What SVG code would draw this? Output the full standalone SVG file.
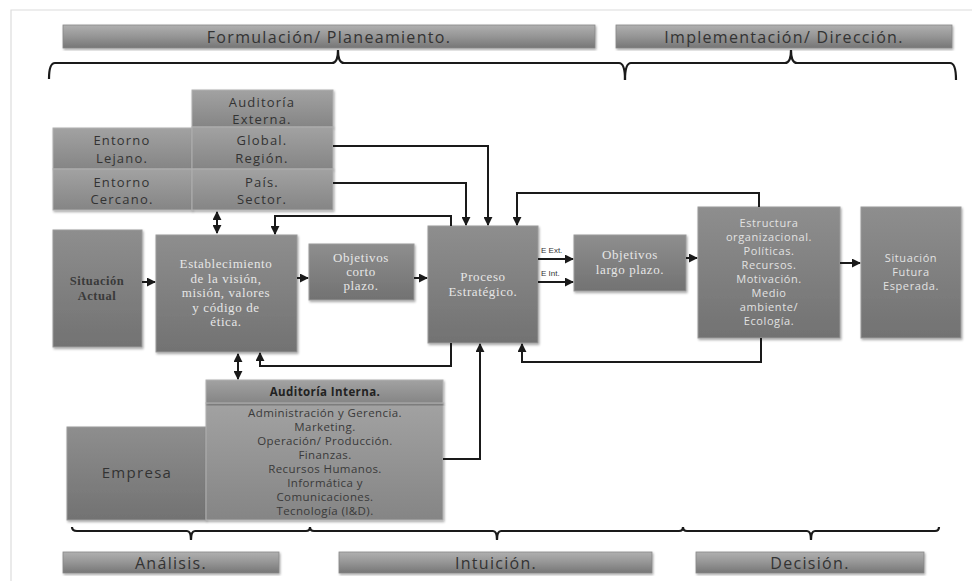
<svg xmlns="http://www.w3.org/2000/svg" width="972" height="581" viewBox="0 0 972 581">
<defs>
<linearGradient id="gBox" x1="0" y1="0" x2="0" y2="1">
<stop offset="0" stop-color="#8e8e8e"/>
<stop offset="1" stop-color="#727272"/>
</linearGradient>
<linearGradient id="gLight" x1="0" y1="0" x2="0" y2="1">
<stop offset="0" stop-color="#a2a2a2"/>
<stop offset="1" stop-color="#858585"/>
</linearGradient>
<linearGradient id="gBar" x1="0" y1="0" x2="0" y2="1">
<stop offset="0" stop-color="#b0b0b0"/>
<stop offset="0.5" stop-color="#959595"/>
<stop offset="1" stop-color="#767676"/>
</linearGradient>
<filter id="sh" x="-10%" y="-10%" width="120%" height="120%">
<feDropShadow dx="1" dy="1.5" stdDeviation="1.2" flood-color="#000" flood-opacity="0.35"/>
</filter>
<marker id="ah" viewBox="0 0 10 10" refX="9" refY="5" markerWidth="4.5" markerHeight="4.5" orient="auto-start-reverse">
<path d="M0,0 L10,5 L0,10 z" fill="#1a1a1a"/>
</marker>
</defs>
<style>
.box{fill:url(#gBox);stroke:#9a9a9a;stroke-width:1;filter:url(#sh)}
.lbox{fill:url(#gLight);stroke:#b0b0b0;stroke-width:1;filter:url(#sh)}
.bar{fill:url(#gBar);stroke:#888;stroke-width:0.8;filter:url(#sh)}
.bt{font-family:"Open Sans","DejaVu Sans",sans-serif;font-size:16px;fill:#333;text-anchor:middle;letter-spacing:1.3px}
.dk{font-family:"Open Sans","DejaVu Sans",sans-serif;font-size:13px;fill:#333;text-anchor:middle;letter-spacing:1.2px}
.sm{font-family:"Open Sans","DejaVu Sans",sans-serif;font-size:11.5px;fill:#3a3a3a;text-anchor:middle;letter-spacing:0.4px}
.ws{font-family:"Open Sans","DejaVu Sans",sans-serif;font-size:11px;fill:#e2e2e2;text-anchor:middle;letter-spacing:0.6px}
.wf{font-family:"Liberation Serif","DejaVu Serif",serif;font-size:13px;fill:#e6e6e6;text-anchor:middle;letter-spacing:0.6px}
.df{font-family:"Liberation Serif","DejaVu Serif",serif;font-size:12.5px;font-weight:bold;fill:#3a3a3a;text-anchor:middle;letter-spacing:0.5px}
.tiny{font-family:"Liberation Sans","DejaVu Sans",sans-serif;font-size:8px;fill:#333}
.ln{fill:none;stroke:#1a1a1a;stroke-width:2}
.br{fill:none;stroke:#1a1a1a;stroke-width:2.2}
.ar{marker-end:url(#ah)}
.ar2{marker-end:url(#ah);marker-start:url(#ah)}
</style>
<rect width="972" height="581" fill="#fff"/>
<path d="M11,581 L11,10 L972,10" fill="none" stroke="#dcdcdc" stroke-width="1.2"/>

<g id="header-formulacion">
<rect class="bar" x="63" y="25" width="532" height="23"/>
<text class="bt" x="329" y="43">Formulación/ Planeamiento.</text>
</g>
<g id="header-implementacion">
<rect class="bar" x="616" y="25" width="336" height="23"/>
<text class="bt" x="784" y="43">Implementación/ Dirección.</text>
</g>
<g id="footer-analisis">
<rect class="bar" x="63" y="552" width="216" height="21"/>
<text class="bt" x="171" y="569">Análisis.</text>
</g>
<g id="footer-intuicion">
<rect class="bar" x="339" y="552" width="313" height="21"/>
<text class="bt" x="496" y="569">Intuición.</text>
</g>
<g id="footer-decision">
<rect class="bar" x="696" y="552" width="228" height="21"/>
<text class="bt" x="810" y="569">Decisión.</text>
</g>

<g id="braces">
<path class="br" d="M49,79 Q49,63 55,63 L332,63 Q338,63 338,50 Q338,63 344,63 L619,63 Q625,63 625,80"/>
<path class="br" d="M625,80 Q625,63 631,63 L785,63 Q791,63 791,50 Q791,63 797,63 L950,63 Q956,63 956,80"/>
<path class="br" d="M72,527 Q72,531 77,531 L187,531 Q191,531 191,540 Q191,531 195,531 L306,531 Q310,531 310,527 Q310,531 314,531 L493,531 Q497,531 497,540 Q497,531 501,531 L679,531 Q683,531 683,527 Q683,531 687,531 L807,531 Q811,531 811,540 Q811,531 815,531 L935,531 Q939,531 939,527"/>
</g>

<g id="auditoria-externa">
<rect class="lbox" x="192" y="90" width="141" height="37"/>
<text class="dk" x="262" y="107">Auditoría</text>
<text class="dk" x="262" y="124">Externa.</text>
</g>
<g id="entorno-lejano">
<rect class="lbox" x="53" y="128" width="139" height="41"/>
<text class="dk" x="122" y="145">Entorno</text>
<text class="dk" x="122" y="163">Lejano.</text>
</g>
<g id="global-region">
<rect class="lbox" x="192" y="127" width="141" height="42"/>
<text class="dk" x="262" y="145">Global.</text>
<text class="dk" x="262" y="163">Región.</text>
</g>
<g id="entorno-cercano">
<rect class="lbox" x="53" y="169" width="139" height="41"/>
<text class="dk" x="122" y="187">Entorno</text>
<text class="dk" x="122" y="204">Cercano.</text>
</g>
<g id="pais-sector">
<rect class="lbox" x="192" y="169" width="141" height="41"/>
<text class="dk" x="262" y="187">País.</text>
<text class="dk" x="262" y="204">Sector.</text>
</g>

<g id="situacion-actual">
<rect class="box" x="53" y="230" width="89" height="117"/>
<text class="df" x="97" y="285">Situación</text>
<text class="df" x="97" y="300">Actual</text>
</g>
<g id="establecimiento">
<rect class="box" x="156" y="235" width="141" height="117"/>
<text class="wf" x="226" y="268">Establecimiento</text>
<text class="wf" x="226" y="283">de la visión,</text>
<text class="wf" x="226" y="297">misión, valores</text>
<text class="wf" x="226" y="312">y código de</text>
<text class="wf" x="226" y="326">ética.</text>
</g>
<g id="objetivos-corto">
<rect class="box" x="309" y="244" width="105" height="56"/>
<text class="wf" x="361" y="262">Objetivos</text>
<text class="wf" x="361" y="276">corto</text>
<text class="wf" x="361" y="290">plazo.</text>
</g>
<g id="proceso">
<rect class="box" x="428" y="226" width="110" height="117"/>
<text class="wf" x="483" y="281">Proceso</text>
<text class="wf" x="483" y="296">Estratégico.</text>
</g>
<g id="objetivos-largo">
<rect class="box" x="574" y="235" width="112" height="56"/>
<text class="wf" x="630" y="259">Objetivos</text>
<text class="wf" x="630" y="274">largo plazo.</text>
</g>
<g id="estructura">
<rect class="box" x="698" y="207" width="142" height="131"/>
<text class="ws" x="769" y="227">Estructura</text>
<text class="ws" x="769" y="241">organizacional.</text>
<text class="ws" x="769" y="255">Políticas.</text>
<text class="ws" x="769" y="269">Recursos.</text>
<text class="ws" x="769" y="283">Motivación.</text>
<text class="ws" x="769" y="297">Medio</text>
<text class="ws" x="769" y="311">ambiente/</text>
<text class="ws" x="769" y="325">Ecología.</text>
</g>
<g id="situacion-futura">
<rect class="box" x="861" y="207" width="100" height="131"/>
<text class="ws" x="911" y="262">Situación</text>
<text class="ws" x="911" y="276">Futura</text>
<text class="ws" x="911" y="290">Esperada.</text>
</g>

<g id="empresa">
<rect class="box" x="67" y="427" width="139" height="93"/>
<text class="bt" x="137" y="478" style="font-size:15px;fill:#333">Empresa</text>
</g>
<g id="auditoria-interna">
<rect class="lbox" x="206" y="403" width="237" height="117"/>
<rect class="lbox" x="206" y="380" width="237" height="23"/>
<text class="sm" x="325" y="396" style="font-weight:bold;fill:#222">Auditoría Interna.</text>
<text class="sm" x="325" y="417">Administración y Gerencia.</text>
<text class="sm" x="325" y="431">Marketing.</text>
<text class="sm" x="325" y="445">Operación/ Producción.</text>
<text class="sm" x="325" y="459">Finanzas.</text>
<text class="sm" x="325" y="473">Recursos Humanos.</text>
<text class="sm" x="325" y="487">Informática y</text>
<text class="sm" x="325" y="501">Comunicaciones.</text>
<text class="sm" x="325" y="515">Tecnología (I&amp;D).</text>
</g>

<g id="connectors">
<path class="ln ar" d="M333,146 L488,146 L488,225"/>
<path class="ln ar" d="M333,183 L466,183 L466,225"/>
<path class="ln ar" d="M759,207 L759,193 L517,193 L517,225"/>
<path class="ln ar" d="M451,226 L451,216 L275,216 L275,234"/>
<path class="ln ar2" d="M217,212 L217,233"/>
<path class="ln ar" d="M142,282 L155,282"/>
<path class="ln ar" d="M297,278 L308,278"/>
<path class="ln ar" d="M414,278 L427,278"/>
<path class="ln ar" d="M538,259 L573,259"/>
<path class="ln ar" d="M538,282 L573,282"/>
<path class="ln ar" d="M686,258 L697,258"/>
<path class="ln ar" d="M840,263 L860,263"/>
<path class="ln ar" d="M451,343 L451,366 L260,366 L260,353"/>
<path class="ln ar2" d="M238,354 L238,379"/>
<path class="ln ar" d="M443,459 L480,459 L480,344"/>
<path class="ln ar" d="M761,338 L761,362 L522,362 L522,344"/>
<text class="tiny" x="541" y="253">E Ext.</text>
<text class="tiny" x="541" y="276">E Int.</text>
</g>
</svg>
